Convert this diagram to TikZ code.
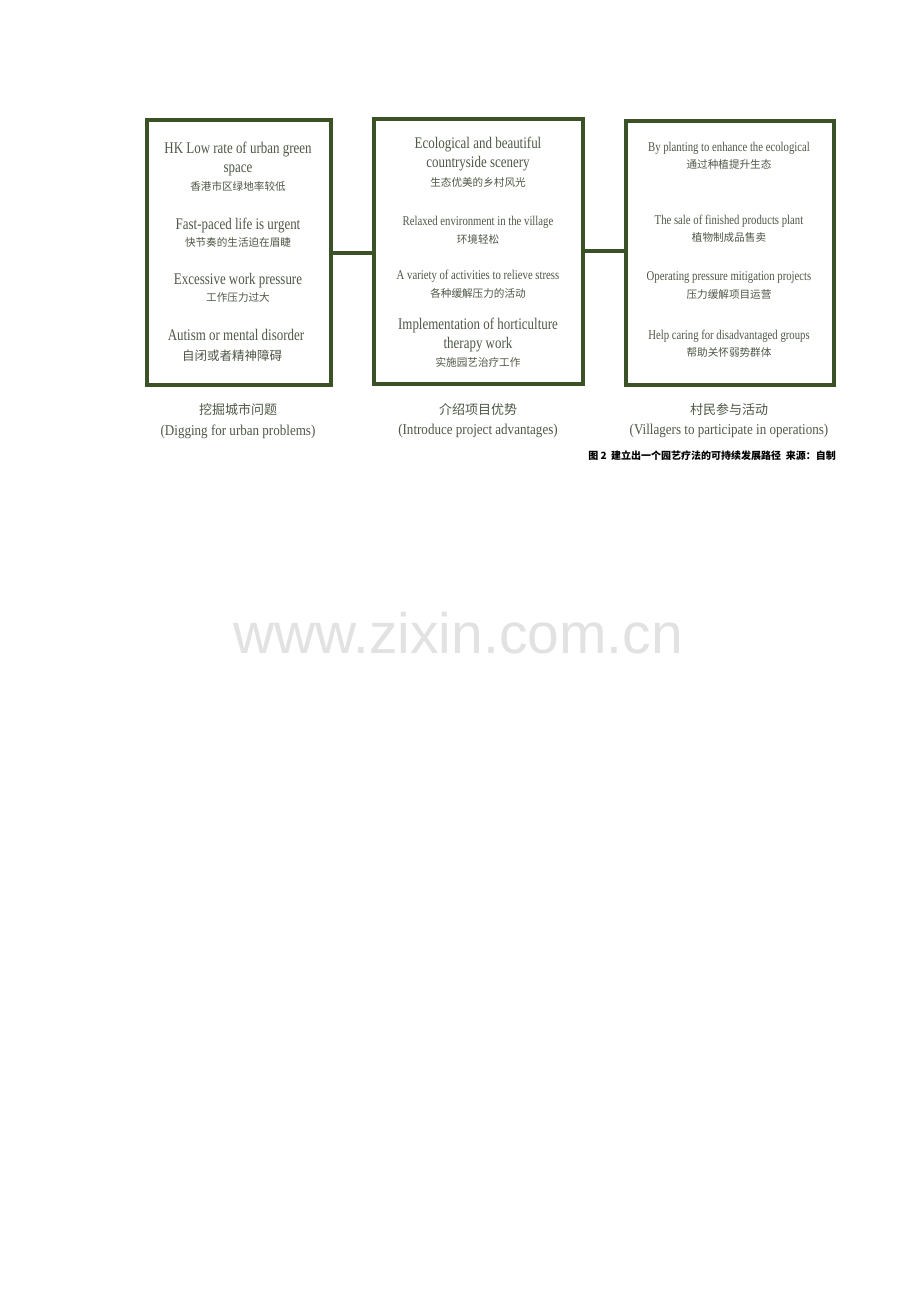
\documentclass[tikz,border=0pt]{standalone}
\usepackage{fontspec}
\setmainfont{Liberation Serif}
\newfontfamily\cond[FakeStretch=0.8]{Liberation Serif}
\newfontfamily\condl[FakeStretch=0.87]{Liberation Serif}
\newfontfamily\cjk{Noto Sans CJK SC}
\newfontfamily\wmfont{Liberation Sans}
\definecolor{boxgreen}{HTML}{3A5226}
\definecolor{txt}{HTML}{4E5846}
\definecolor{wm}{HTML}{E2E2E2}
\tikzset{
  panel/.style={draw=boxgreen, line width=4pt, inner sep=0pt, fill=white},
  link/.style={draw=boxgreen, line width=4pt},
  en/.style={text=txt, inner sep=0pt, font=\cond\fontsize{16.2}{18}\selectfont},
  ens/.style={text=txt, inner sep=0pt, font=\cond\fontsize{13.4}{15}\selectfont},
  zh/.style={text=txt, inner sep=0pt, font=\cjk\fontsize{10.6}{12}\selectfont},
  zhl/.style={text=txt, inner sep=0pt, font=\cjk\fontsize{12.5}{14}\selectfont},
  lab/.style={text=txt, inner sep=0pt, font=\condl\fontsize{15}{17}\selectfont},
  labzh/.style={text=txt, inner sep=0pt, font=\cjk\fontsize{13}{15}\selectfont},
}
\begin{document}
\begin{tikzpicture}[x=1pt,y=-1pt]
\useasboundingbox[fill=white] (0,0) rectangle (920,1302);
% watermark
\node[text=wm, inner sep=0pt, font=\wmfont\fontsize{57}{60}\selectfont] (wmk) at (458,633) {www.zixin.com.cn};
% panels
\node[panel, minimum width=184pt, minimum height=265pt] (b1) at (239,252.5) {};
\node[panel, minimum width=209pt, minimum height=265pt] (b2) at (478.5,251.5) {};
\node[panel, minimum width=208pt, minimum height=264pt] (b3) at (730,253) {};
\draw[link] (b1.east |- 0,253) coordinate (c1a) -- (b2.west |- 0,253) coordinate (c1b);
\draw[link] (b2.east |- 0,251) coordinate (c2a) -- (b3.west |- 0,251) coordinate (c2b);
% box 1
\node[en] (a1) at (238,150) {HK Low rate of urban green};
\node[en] (a1b) at (238,170) {space};
\node[zh] (a1c) at (238,186) {香港市区绿地率较低};
\node[en] (a2) at (238,226) {Fast-paced life is urgent};
\node[zh] (a2c) at (238,242) {快节奏的生活迫在眉睫};
\node[en] (a3) at (238,281) {Excessive work pressure};
\node[zh] (a3c) at (238,297) {工作压力过大};
\node[en] (a4) at (236,335) {Autism or mental disorder};
\node[zhl] (a4c) at (232,356) {自闭或者精神障碍};
% box 2
\node[en] (p1) at (478,145) {Ecological and beautiful};
\node[en] (p1b) at (478,164) {countryside scenery};
\node[zh] (p1c) at (478,182) {生态优美的乡村风光};
\node[ens] (p2) at (478,222) {Relaxed environment in the village};
\node[zh] (p2c) at (478,239) {环境轻松};
\node[ens] (p3) at (478,276) {A variety of activities to relieve stress};
\node[zh] (p3c) at (478,293) {各种缓解压力的活动};
\node[en] (p4) at (478,326) {Implementation of horticulture};
\node[en] (p4b) at (478,345) {therapy work};
\node[zh] (p4c) at (478,362) {实施园艺治疗工作};
% box 3
\node[ens] (v1) at (729,148) {By planting to enhance the ecological};
\node[zh] (v1c) at (729,164) {通过种植提升生态};
\node[ens] (v2) at (729,221) {The sale of finished products plant};
\node[zh] (v2c) at (729,237) {植物制成品售卖};
\node[ens] (v3) at (729,278) {Operating pressure mitigation projects};
\node[zh] (v3c) at (729,294) {压力缓解项目运营};
\node[ens] (v4) at (729,336) {Help caring for disadvantaged groups};
\node[zh] (v4c) at (729,352) {帮助关怀弱势群体};
% bottom labels
\node[labzh] (l1) at (238,410) {挖掘城市问题};
\node[lab] (l1b) at (238,432) {(Digging for urban problems)};
\node[labzh] (l2) at (478,410) {介绍项目优势};
\node[lab] (l2b) at (478,431) {(Introduce project advantages)};
\node[labzh] (l3) at (729,410) {村民参与活动};
\node[lab] (l3b) at (729,431) {(Villagers to participate in operations)};
% caption
\node[anchor=east, inner sep=0pt, text=black, font=\cjk\bfseries\fontsize{10}{11}\selectfont] (cap) at (836,456) {图 2\ \ 建立出一个园艺疗法的可持续发展路径\ \ 来源：自制};
\end{tikzpicture}
\end{document}
